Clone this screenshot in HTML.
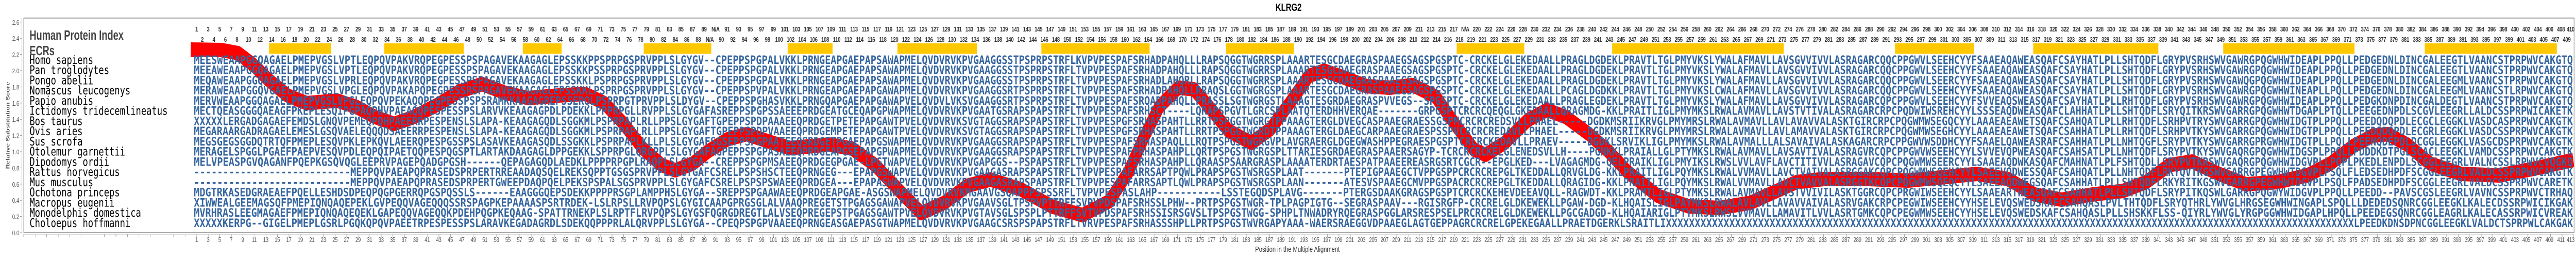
<!DOCTYPE html>
<html><head><meta charset="utf-8">
<style>
html,body{margin:0;padding:0;background:#fff;overflow:hidden;}
#c{position:relative;width:6711px;height:500px;overflow:hidden;background:#fff;font-family:"Liberation Sans",sans-serif;transform-origin:0 0;}
.row{position:absolute;white-space:nowrap;overflow:hidden;font-family:"Liberation Sans Narrow","Liberation Sans",sans-serif;line-height:14px;height:16px;}
.row i{display:inline-block;width:30.06px;text-align:center;font-style:normal;}
.row i.l{width:14px;text-align:left;}
.tp{font-size:13px;font-weight:bold;color:#333;letter-spacing:-0.5px;}
.bt{font-size:13px;color:#555;letter-spacing:-0.5px;}
</style></head><body>
<div id="c">
<svg width="6711" height="500" style="position:absolute;left:0;top:0">
<text x="3357" y="21" text-anchor="middle" font-family="Liberation Sans Narrow,Liberation Sans,sans-serif" font-weight="bold" font-size="20" fill="#000">KLRG2</text>
<rect x="62" y="35" width="6644" height="416" fill="none" stroke="#888" stroke-width="1.5"/>
<line x1="62" y1="454" x2="6706" y2="454" stroke="#bbb" stroke-width="1"/>
<line x1="57" y1="35" x2="57" y2="451" stroke="#999" stroke-width="1"/>
<g stroke="#999" stroke-width="1">
<line x1="52" y1="451" x2="57" y2="451"/><line x1="52" y1="419.6" x2="57" y2="419.6"/><line x1="52" y1="388.2" x2="57" y2="388.2"/><line x1="52" y1="356.8" x2="57" y2="356.8"/><line x1="52" y1="325.4" x2="57" y2="325.4"/><line x1="52" y1="294" x2="57" y2="294"/><line x1="52" y1="262.6" x2="57" y2="262.6"/><line x1="52" y1="231.2" x2="57" y2="231.2"/><line x1="52" y1="199.8" x2="57" y2="199.8"/><line x1="52" y1="168.4" x2="57" y2="168.4"/><line x1="52" y1="137" x2="57" y2="137"/><line x1="52" y1="105.6" x2="57" y2="105.6"/><line x1="52" y1="74.2" x2="57" y2="74.2"/><line x1="52" y1="42.8" x2="57" y2="42.8"/>
</g>
<g font-family="Liberation Sans Narrow,Liberation Sans,sans-serif" font-size="13" fill="#555" text-anchor="end">
<text x="50" y="456">0.0</text><text x="50" y="424.6">0.2</text><text x="50" y="393.2">0.4</text><text x="50" y="361.8">0.6</text><text x="50" y="330.4">0.8</text><text x="50" y="299">1.0</text><text x="50" y="267.6">1.2</text><text x="50" y="236.2">1.4</text><text x="50" y="204.8">1.6</text><text x="50" y="173.4">1.8</text><text x="50" y="142">2.0</text><text x="50" y="110.6">2.2</text><text x="50" y="79.2">2.4</text><text x="50" y="47.8">2.6</text>
</g>
<text transform="translate(25,243) rotate(-90)" text-anchor="middle" font-family="Liberation Sans,sans-serif" font-weight="bold" font-size="13" fill="#555">Relative Substitution Score</text>
<text x="3380" y="488" text-anchor="middle" font-family="Liberation Sans Narrow,Liberation Sans,sans-serif" font-size="15" fill="#333">Position in the Multiple Alignment</text>
<text x="77" y="77" textLength="245" lengthAdjust="spacingAndGlyphs" font-family="Liberation Sans Narrow,Liberation Sans,sans-serif" font-weight="bold" font-size="26" fill="#444">Human Protein Index</text>
<text x="77" y="107" textLength="65" lengthAdjust="spacingAndGlyphs" font-family="Liberation Sans Narrow,Liberation Sans,sans-serif" font-weight="bold" font-size="26" fill="#444">ECRs</text>
<g fill="#ffc800">
<rect x="701" y="84" width="162" height="20"/><rect x="1001" y="84" width="207" height="20"/><rect x="1362" y="84" width="101" height="20"/><rect x="1677" y="84" width="176" height="20"/><rect x="2052" y="84" width="117" height="20"/><rect x="2338" y="84" width="207" height="20"/><rect x="2713" y="84" width="282" height="20"/><rect x="3194" y="84" width="177" height="20"/><rect x="3795" y="84" width="176" height="20"/><rect x="4200" y="84" width="447" height="20"/><rect x="4937" y="84" width="206" height="20"/><rect x="5297" y="84" width="326" height="20"/><rect x="5792" y="84" width="342" height="20"/><rect x="6317" y="84" width="344" height="20"/>
</g>
<polyline fill="none" stroke="#ff0000" stroke-width="28" stroke-linejoin="round" points="497,96 577,97 620,103 659,125 700,155 749,185 799,200 878,195 928,207 978,227 1027,240 1077,227 1147,200 1197,177 1256,163 1316,180 1376,190 1456,185 1525,182 1575,200 1625,240 1674,287 1724,320 1759,330 1805,317 1845,293 1895,270 1945,260 2014,277 2060,287 2160,280 2220,288 2280,320 2340,367 2400,413 2460,393 2520,360 2580,348 2660,367 2740,400 2820,417 2890,390 2940,333 2980,267 3020,207 3070,170 3110,173 3150,207 3200,253 3260,277 3310,250 3360,200 3410,147 3450,137 3500,150 3560,167 3620,170 3680,165 3740,187 3790,240 3840,290 3870,300 3920,277 3980,233 4030,213 4080,227 4140,260 4190,293 4240,333 4320,380 4400,400 4480,403 4560,393 4620,373 4680,353 4750,347 4870,347 4970,350 5070,343 5151,337 5231,347 5301,377 5371,387 5451,377 5531,370 5591,353 5651,320 5711,313 5781,337 5851,357 5931,353 6011,340 6071,317 6131,283 6181,263 6221,260 6271,280 6331,317 6411,337 6511,340 6601,327 6704,310"/>
<g font-family="DejaVu Sans Mono,monospace" font-size="23" fill="#000">
<text x="77" y="124">Homo sapiens</text>
<text x="77" y="143.75">Pan troglodytes</text>
<text x="77" y="163.5">Pongo abelii</text>
<text x="77" y="183.25">Nomascus leucogenys</text>
<text x="77" y="203">Papio anubis</text>
<text x="77" y="222.75">Ictidomys tridecemlineatus</text>
<text x="77" y="242.5">Bos taurus</text>
<text x="77" y="262.25">Ovis aries</text>
<text x="77" y="282">Sus scrofa</text>
<text x="77" y="301.75">Otolemur garnettii</text>
<text x="77" y="321.5">Dipodomys ordii</text>
<text x="77" y="341.25">Rattus norvegicus</text>
<text x="77" y="361">Mus musculus</text>
<text x="77" y="380.75">Ochotona princeps</text>
<text x="77" y="400.5">Macropus eugenii</text>
<text x="77" y="420.25">Monodelphis domestica</text>
<text x="77" y="440">Choloepus hoffmanni</text>
</g>
<g font-family="DejaVu Sans Mono,monospace" font-weight="bold" font-size="22" fill="#35659f">
<text x="505" y="124" textLength="1555" lengthAdjust="spacingAndGlyphs">MEESWEAAPGGQAGAELPMEPVGSLVPTLEQPQVPAKVRQPEGPESSPSPAGAVEKAAGAGLEPSSKKPPSPRPGSPRVPPLSLGYGV--CPEPPSPGPALVK</text>
<text x="505" y="143.75" textLength="1555" lengthAdjust="spacingAndGlyphs">MEEAWEAAPGGQAGAELPMEPVGSLVPTLEQPQVPAKVRQPEGPESSPSPAGAVEKAAGAGLEPSSKKPSSPRPGSPRVPPLSLGYGV--CPEPPSPGPALVK</text>
<text x="505" y="163.5" textLength="1555" lengthAdjust="spacingAndGlyphs">MEQAWEAAPGGQAGAELPMEPVGSLVPRLEQPQVPAKVRQPEGPESSPSPAGAVEKAAGAGLEPSSKKLPSPRPGSPRVPPLSLGYGV--CPEPPSPGPALVK</text>
<text x="505" y="183.25" textLength="1555" lengthAdjust="spacingAndGlyphs">MERAWEAAPGGQVGAELPMEPVGSLVPGLEQPQVPAKAPQPEGPESSRSPAGAVEKAAGAGLEPSSKKLPSPRPGSPRVPPLSLGYGV--CPEPPSPVPALVK</text>
<text x="505" y="203" textLength="1555" lengthAdjust="spacingAndGlyphs">MERVWEAAPGGQAGAELPMEPVGSLVPGLEQPQVPEKAQQPEGPESSPSPSRAMKKAAGAGREPSSERQLPSPRPGTPRVPPLSLDYGV--CPEPPSPGHASVK</text>
<text x="505" y="222.75" textLength="1555" lengthAdjust="spacingAndGlyphs">MECTQEASGGGQAEAGFPKEPLESQIPGPAQPHVPAEAQQPESPESSPSLARVVKEAAGAGPDLPDEKKLPPPRPGLLRVPPLSLGYGAFASREPPSPGPSSAE</text>
<text x="505" y="242.5" textLength="1555" lengthAdjust="spacingAndGlyphs">XXXXXLERGADGAGAEFEMDSLGNQVPEMEQPQHPAEERRPESPENSLSLAPA-KEAAGAGQDLSGGKMLPSPRPAPLRLLPPSLGYGAFTGPEPPSPDPAAAE</text>
<text x="505" y="262.25" textLength="1555" lengthAdjust="spacingAndGlyphs">MEGARAARGADRAGAELEMESLGSQVAELEQQQDSAEERRPESPENSLSLAPA-KEAAGAGQDLSGGKMLPSPRPAPLRLLPPSLGYGAFTGPEPPSPDPVAAE</text>
<text x="505" y="282" textLength="1555" lengthAdjust="spacingAndGlyphs">MEGSGEGSGGDQTRTQFPMEPLESQVPKLEPKQVLAEERQPESPGSSPSLASAVKEAAGASQDLSSGKKLPSPRPAPLKLLPLSLGYGAFSGSEPPSPGPAATE</text>
<text x="505" y="301.75" textLength="1555" lengthAdjust="spacingAndGlyphs">MERAGELSPGGLPGAEFPAEPVESQVPDLEQPQIPAETQQPESPQGSPTLARTAKDAAGAGLDPPGEKKLSPPRPGLQRGPPLSLGYGAFAGPEPPSPGPASAE</text>
<text x="505" y="321.5" textLength="1555" lengthAdjust="spacingAndGlyphs">MELVPEASPGVQAGANFPQEPKGSQVQGLEEPRVPAGEPQADGPGSH------QEPAGAGQDLAEDKLPPPPRPGPLRAQPLSLGYGA--CREPPSPGPMSAE</text>
<text x="505" y="341.25" textLength="1555" lengthAdjust="spacingAndGlyphs">---------------------------MEPPQVPAEAPQPRASEDSPRPERTRREAADAQSQELREKSQPPTGSGSPRVPPLSLGYGAFCSRELPSPSHSCTE</text>
<text x="505" y="361" textLength="1555" lengthAdjust="spacingAndGlyphs">---------------------------MEPPQVPAEAPQPRASEDSPRPERTGWEEPDAQPQELPEKSPSPALSGSPRVPPLSLGYGAFCSRELPSPSPSWAE</text>
<text x="505" y="380.75" textLength="1555" lengthAdjust="spacingAndGlyphs">MDGTRKASEDGRAEAEFPQELLESHDSDPEQPQGPGERRQPGSPQSSLS------EAAGGGQEPSDEKKPPPPRSGPLAMPPHSLGYGA--SREPPSPGAAWAE</text>
<text x="505" y="400.5" textLength="1555" lengthAdjust="spacingAndGlyphs">XIWWEALGEEMAGSQFPMEPIQNQAQEPEKLGVPEQQVAGEQQQSSRSPAGPKEPAAAASPSRTRDEK-LSLRPSLLRVPQPSLGYGICAAPGPRGSGLALVA</text>
<text x="505" y="420.25" textLength="1555" lengthAdjust="spacingAndGlyphs">MVRHRASLEEGMAGAEFPMEPIQNQAQEQEKLGAPEQQVAGEQQKPDEHPQGPKEQAAG-SPATTRNEKPLSLRPTFLRVPQPSLGYGSFQGRGDREGTLALVS</text>
<text x="505" y="440" textLength="1555" lengthAdjust="spacingAndGlyphs">XXXXXKERPG--GIGELPMEPLGSRLPGQKQPQVPAEETRPESPESSPSLARAVKEGADAGRDLSDEKQQPPPRLALQRVPPLSLGYGA--CPEQPSPGPVAAE</text>

<text x="2060" y="124" textLength="1560" lengthAdjust="spacingAndGlyphs">KLPRNGEAPGAEPAPSAWAPMELQVDVRVKPVGAAGGSSTPSPRPSTRFLKVPVPESPAFSRHADPAHQLLLRAPSQGGTWGRRSPLAAARTESGCDAEGRASPA</text>
<text x="2060" y="143.75" textLength="1560" lengthAdjust="spacingAndGlyphs">KLPRNGEAPGAEPAPSAWAPMELQVDVRVKPVGAAGGSSTPSPRPSTRFLTVPVPESPAFSRHADPAHQLLLRAPSQGGTWGRRSPLAAARTESGCDAEGRASPA</text>
<text x="2060" y="163.5" textLength="1560" lengthAdjust="spacingAndGlyphs">KLPRNGEAPGAEPAPSAWAPMELQVDVRVKPVGAAGGSSTPSPRPSTRFLTVPVPESPAFSRHADLAHQRLLRAPSQGGTWGRRSPLAAARTESGCDAEGRASPA</text>
<text x="2060" y="183.25" textLength="1560" lengthAdjust="spacingAndGlyphs">KLPRNGEAPGAEPAPGAWAPMELQVDVRVKPVGAAGGSRTPSPRPSTRFLTVPVPESPAFSRHADPAHQLLRRAQSLGGTWGRGSPLAAARTESGCDAEGRASPA</text>
<text x="2060" y="203" textLength="1560" lengthAdjust="spacingAndGlyphs">KLPRNGQAPGAEPAPGAWAPVELQVDVLVKSVGAAGGSRTPSPRPSTRFLTVPVPESPAFSRQADPAHQLLPRASSLSGTWGRGSTLAAAGTESGRDAEGRASPV</text>
<text x="2060" y="222.75" textLength="1560" lengthAdjust="spacingAndGlyphs">EEPRDGEATGCEQAPGPWAPMELQVDVRVKPVGAATGSRAPSPAPSTRFLTVPVPESPAFSRHSCT----LQRAPSPGVTLGRCSPLAATQTERDHHVERQAE--</text>
<text x="2060" y="242.5" textLength="1560" lengthAdjust="spacingAndGlyphs">EQPRDGETPETEPAPGAWTPVELQVDVRVKSVGTAGGSRAPSPAPSTRFLTVPVPESPGFSRHASPAHTLLRRTPSPGGTWGRGTPPAAAGTERGLDVEGCASPA</text>
<text x="2060" y="262.25" textLength="1560" lengthAdjust="spacingAndGlyphs">EQPRDGEMPETEPAPGAWTPVELQVDVRVKSVGTAGGSRAPSPAPSTRFLTVPVPESPGFSRHASPAHTLLRRTPSPGGTWGRDTPPAAAGTERGLDAEGCARPA</text>
<text x="2060" y="282" textLength="1560" lengthAdjust="spacingAndGlyphs">EQSRDGETPGAEPAPGSWAPMELQVDVRVKPVGAAGGSRAPSPAPSTRFLTVPVPESPAFSRHASPAQLLLRQTPSPGSTWGRGVPLAVGRAERGLDGEGWASHP</text>
<text x="2060" y="301.75" textLength="1560" lengthAdjust="spacingAndGlyphs">EQPRDGEAPGSEPAPGPWAPMELQVDVRVKPVGAAGGSRAPSPAPSTRFLTVPVPESPAFPRHASPAHPLLQRTPSPGSTWGRGSPLTTARIESGRDAEGRASPA</text>
<text x="2060" y="321.5" textLength="1560" lengthAdjust="spacingAndGlyphs">EQPRDGEGPGAE-LPGTWAPVELQVDVRVKPVGAPGGS--PSPAPSTRFLTVPVPESPAFSRHASPAHPLLQRAASPSAARGRASPLAAAATERDRTAESPATPA</text>
<text x="2060" y="341.25" textLength="1560" lengthAdjust="spacingAndGlyphs">EQPRNGEG---EPAPGSWAPVELQVDVRVKPVGAAGASRAPSPAPSTRFLTVPVPESPAFARRSAPTPQWLPRAPSPGSTWSRGSPLAAT-------PTEPIGPA</text>
<text x="2060" y="361" textLength="1560" lengthAdjust="spacingAndGlyphs">EQPRDGEA---EPAPASWAPVELQVDVRVKPVGAAGASRAPSPAPSTRFLTVPVPESPAFARRSAPTLQWLPRAPSPGSTWSRGSPLAAN-------ATESVSPA</text>
<text x="2060" y="380.75" textLength="1560" lengthAdjust="spacingAndGlyphs">EQPRDGEAPGAE-ASGSWAPMELQVDVRVKMGAAVGSQAPPPSPSSRFLTVPVPESPASLAHP-----------LSSTEGQDSPLAVG-------PTERGSDA</text>
<text x="2060" y="400.5" textLength="1560" lengthAdjust="spacingAndGlyphs">AQPREGETSTPGAGSGAWAPVELQVDVRVKPVGAAVSGLTPSPVPTTRFFSVPVPDSPAFSRHSSLPHW--PRTPSPGSTWGR-TPLPAGPIGTG--SEGRASPA</text>
<text x="2060" y="420.25" textLength="1560" lengthAdjust="spacingAndGlyphs">EQPREGEPSTPGAGSGAWTPVELQVDVRVKPVGTAVSGLSPSPLPTTRFFSVTVPDSPAFSRHSSISRSGVSLTPSPGSTWGG-SPHPLTNWADRYRQEGRASPG</text>
<text x="2060" y="440" textLength="1560" lengthAdjust="spacingAndGlyphs">EQPRNGEASGAEPASGTWAPMELQVDVRVKPVGAAGCSRSPSPAPSTRFLTVRVPESPAFSRHASSSHPLLPRTPSPGSTWVRGAPYAAA-WAERSRAEGGVDPA</text>

<text x="3620" y="124" textLength="1560" lengthAdjust="spacingAndGlyphs">AEGSAGSPGSPTC-CRCKELGLEKEDAALLPRAGLDGDEKLPRAVTLTGLPMYVKSLYWALAFMAVLLAVSGVVIVVLASRAGARCQQCPPGWVLSEEHCYYFSA</text>
<text x="3620" y="143.75" textLength="1560" lengthAdjust="spacingAndGlyphs">AEGSAGSPGSPTC-CRCKELGLEKEDAALLPRAGLDGDEKLPRAVTLTGLPMYVKSLYWALAFMAVLLAVSGVVIVVLASRAGARCQQCPPGWVLSEEHCYYFSA</text>
<text x="3620" y="163.5" textLength="1560" lengthAdjust="spacingAndGlyphs">AEGSAGSPGSPTC-CRCKELGLEKEDAALLPRAGLDGDEKLPRAVTLTGLPMYVKSLYWALAFMAVLLAVSGVVIVVLASRAGARCQQCPPGWVLSEERCYYFSA</text>
<text x="3620" y="183.25" textLength="1560" lengthAdjust="spacingAndGlyphs">AEGSAGSPGSPTC-CRCKELGLEKEDAALLPCAGLDGDKKLPRAVTLTGLPMYVKSLCWALAFMAVLLAVSGVVIVVLASRAGARCQQCPPGWVLSEEHCYYFSA</text>
<text x="3620" y="203" textLength="1560" lengthAdjust="spacingAndGlyphs">VEGS--SPGSPTC-CRCKELGLEKEDAALLPRAGLEGDEKLPRAVTLTGLPMYVKSLYWALAFMAVLLAVSGVVIVVLASRAGARCQPCPPGWVLSEEHCYYFSV</text>
<text x="3620" y="222.75" textLength="1560" lengthAdjust="spacingAndGlyphs">-----GRPGSPTCRCRCQEQGLGKEDAALLQRAGMDG-KKLPRAITLIGLPMYMKSLRWALAVMAVLLAVSTVTIVALASRAGARCRPCPQDWIWSREHCYYLSS</text>
<text x="3620" y="242.5" textLength="1560" lengthAdjust="spacingAndGlyphs">AEGRAESSGSPMCRCRCREDSVLLPHAEL-----DGDKMSRIIKRVGLPMYMRSLRWALAVMAVLLAVLAVAVVALASKTGIRCRPCPQGWMWSEGQCYYLAA</text>
<text x="3620" y="262.25" textLength="1560" lengthAdjust="spacingAndGlyphs">AEGRAESPSSPVCRCRCREDAVLLPHAEL-----DGDKMSRIIKRVGLPMYMRSLRWALAVMAVLLAVLAMAVVALASKTGIRCRPCPQGWMWSEGHCYYLAA</text>
<text x="3620" y="282" textLength="1560" lengthAdjust="spacingAndGlyphs">PEGRAESPGSPTCRCRCKEDAVLLPRAEV-----DGDKLSRVIKLIGLPMYMKSLRWALAVMALLLALSAVAIVALASKAGARCRPCPPGWVWSDDHCYYFSA</text>
<text x="3620" y="301.75" textLength="1560" lengthAdjust="spacingAndGlyphs">AERSAGYP-TCRCRCRCKELGLENEDSVLLH----PGNKKLPRAIALLGLPTYMKSLRWALAVMAVLLAVSAVTIVALASRAGVRCQPCPPGWVWSEEHCYYLSV</text>
<text x="3620" y="321.5" textLength="1560" lengthAdjust="spacingAndGlyphs">AEEREASRGSRTCGCR--EPGLKED---LVAGAGMDG-QELPRAIKLIGLPMYIKSLRWSLVVLAVFLAVCTITIVVLASRAGAVCQPCPQGWMWSEERCYYLSA</text>
<text x="3620" y="341.25" textLength="1560" lengthAdjust="spacingAndGlyphs">AEGCTVPPGSPPCRCRCREPGLTKEDDALLQRVGLDG-KKLPRAITLIGLPQYMKSLRWALVVMAVLLAVCTVAIVALASRGGAKCQPCPQGWMWSQEHCYYLSA</text>
<text x="3620" y="361" textLength="1560" lengthAdjust="spacingAndGlyphs">AEGCMVPPGSPACRCRCREPGLTKEDDALLQRAGIDG-KKLPRAITLIGLPQYMKSLRWALVVMAVLLAVCTVAVVALASRGGTKCQPCPQGWMWSQEQCYYLSA</text>
<text x="3620" y="380.75" textLength="1560" lengthAdjust="spacingAndGlyphs">AKGRAGSPGSPTCRCRCKEHEVDEEAVQLL-RAGWDT-KKLPRAMTLIGLPTYMKSLRWALAVMAVLLAVSTVVIVILASKTGGRCQPCPRGWIWSEEHCYYLSA</text>
<text x="3620" y="400.5" textLength="1560" lengthAdjust="spacingAndGlyphs">AV---RGISRGFP-CRCRELGLDKEWEKLLPGAW-DGD-KLHQAISLIGLPAYMKSLRWALAVLAVLLAVAVVAIVALASRVGAKCRPCPEGWIWSEEHCYYHSE</text>
<text x="3620" y="420.25" textLength="1560" lengthAdjust="spacingAndGlyphs">GLARSRESPSELPRCRCRELGLDKEWEKLLPGCGADGD-KLHQAIARIGLPTYMKSLRWSLVVMAVLLAMAVITLVVLASRTGMKCQPCPEGWMWSEEHCYYHSE</text>
<text x="3620" y="440" textLength="1560" lengthAdjust="spacingAndGlyphs">AEGLAGTGEPPAGRCRCRELGPEKEGAALLPRAETDGERKLSRAITLIXXXXXXXXXXXXXXXXXXXXXXXXXXXXXXXXXXXXXXXXXXXXXXXXXXXXXXXX</text>

<text x="5181" y="124" textLength="1522" lengthAdjust="spacingAndGlyphs">AEAQAWEASQAFCSAYHATLPLLSHTQDFLGRYPVSRHSWVGAWRGPQGWHWIDEAPLPPQLLPEDGEDNLDINCGALEEGTLVAANCSTPRPWVCAKGTQ</text>
<text x="5181" y="143.75" textLength="1522" lengthAdjust="spacingAndGlyphs">AEAQAWEASQAFCSAYHATLPLLSHTQDFLGRYPVSRHSWVGAWRGPQGWHWIDEAPLPPQLLPEDGEDNLDINCGALEEGTLVAANCSTPRPWVCAKGTQ</text>
<text x="5181" y="163.5" textLength="1522" lengthAdjust="spacingAndGlyphs">AEAQAWEASQAFCSAYHATLPLLSHTQDFLGRYPVSRHSWVGAWQGPQGWHWIDEAPLPPQLLPEDGEDNLDINCGALEEGMLVAANCSTPRPWVCAKGTQ</text>
<text x="5181" y="183.25" textLength="1522" lengthAdjust="spacingAndGlyphs">AEAQAWEASQAFCSAYHATLPLLSHTQDFLGRYPVSRHSWVGAWRGPQGWHWINEAPLLPQLLPEDGEDNLDINCGALEEGMLVAANCSTLRPWVCAKGTQ</text>
<text x="5181" y="203" textLength="1522" lengthAdjust="spacingAndGlyphs">VEAQSWEASQAFCSAYHATLPLLRHTQDFLGRYPVSRHSWVGAWRGPQGWHWIDEAPLPPQLLPEDGKDNPDINCGALDEGTLVAANCSTPRPWVCAKGTQ</text>
<text x="5181" y="222.75" textLength="1522" lengthAdjust="spacingAndGlyphs">SEAQDWEASQAFCLAHHATLPLLSHTQDFLSRYQITKRSWVGARRGPQGWHWTDGAPLPTQLLPEEGEDNPDLSCGVLEEGRLLALDCSSPRPWICAKETK</text>
<text x="5181" y="242.5" textLength="1522" lengthAdjust="spacingAndGlyphs">AEAEAWETSQAFCSAHQATLPLLRHTQDFLSRHPVTRYSWVGARRGPQGWHWIDGTPLPPQLLPEEDQDQPDLECGCLEGGKLVASDCASPRPWVCAKGTK</text>
<text x="5181" y="262.25" textLength="1522" lengthAdjust="spacingAndGlyphs">AEAEAWETSQAFCSAHHATLPLLRHTQDFLSRHPVTKYSWVGARRGPQGWHWIDGTPLPPQLLPEEDQDQPDLECGRLEGGKLVASDCSSPRPWVCAKGTK</text>
<text x="5181" y="282" textLength="1522" lengthAdjust="spacingAndGlyphs">AELQAWEASRAFCSAHHATLPLLNHTQGFLSRYPVTKYSWVGARRGPRGWHWIDGTPLLPQLLPEENQDEPDLDCGGLEGGKLVASGCDSPRPWVCAKGTK</text>
<text x="5181" y="301.75" textLength="1522" lengthAdjust="spacingAndGlyphs">VEVQPWEASQAFCSAHSATLPLLNHTQDFLSRYPVTKYSWVGAQRGPQGWHWIDGSPLPPQLLPDDDKDTPGLSCACLEEGKLVAMDCSSPRPWVCAKGTK</text>
<text x="5181" y="321.5" textLength="1522" lengthAdjust="spacingAndGlyphs">AEAQDWKASQAFCMAHNATLPLFSHTQDLLSRYPVTKRSWVGAQRGPQGWHWIDGVPLLPQPLPKEDLENPDLSCGGLEEGRLVALNCSSLRPWVCVQGKQ</text>
<text x="5181" y="341.25" textLength="1522" lengthAdjust="spacingAndGlyphs">EEVQDWESSQAFCSAHQATLPLLNHTQDFLRKYQVTKGSWVGARRGPEGWHWTDGVPLPSQLFLEDSEDHPDFSCGGLEEGRLVALDCSSPRPWVCAKGTK</text>
<text x="5181" y="361" textLength="1522" lengthAdjust="spacingAndGlyphs">EEAQDWEGSQAFCSAHHATLPLLSHTQDFLRKYRITKGSWVGARRGPEGWHWIDGVPLPSQLFPADSEDHPDFSCGGLEEGRLVALDCSSPRPWVCARETK</text>
<text x="5181" y="380.75" textLength="1522" lengthAdjust="spacingAndGlyphs">AEARTWEASQAFCSAHHATLPLLSHTQDFLSRYPITKQSWLGARRGPQGWYWIDGVPLPPQLLPEEDD--PAVSCGSLEEGRLVAVNCSSPRPWVCTRHAQ</text>
<text x="5181" y="400.5" textLength="1522" lengthAdjust="spacingAndGlyphs">LEVQSWEDSKAFCSAHQASLPVLTHTQDFLSRYQTHRLYWVGLHRGSEGWHWINGAPLSPQLLLDEDEDSQNRCGGLEEGKLKALECDSSRPWICIKGAK</text>
<text x="5181" y="420.25" textLength="1522" lengthAdjust="spacingAndGlyphs">LEVQSWEDSKAFCSAHQASLPLLSHSKKFLSS-QIYRLYWVGLYRGPGGWHWIDGAPLHPQLLPEEDEGSQNRCGGLEAGRLKALECASSRPWICVREAK</text>
<text x="5181" y="440" textLength="1522" lengthAdjust="spacingAndGlyphs">XXXXXXXXXXXXXXXXXXXXXXXXXXXXXXXXXXXXXXXXXXXXXXXXXXXXXXXXXXXXXXXXXLPEEDKDNSDPNCGGLEEGKLVALDCTSPRPWLCAKGAK</text>
</g>
</svg>
<div style="position:absolute;left:61px;top:454px;width:6645px;height:5px;background:repeating-linear-gradient(to right,#aaa 0,#aaa 1px,transparent 1px,transparent 30.06px);"></div>

<div class="row tp" style="left:496.97px;top:50px;width:6212px;"><i>1</i><i>3</i><i>5</i><i>7</i><i>9</i><i>11</i><i>13</i><i>15</i><i>17</i><i>19</i><i>21</i><i>23</i><i>25</i><i>27</i><i>29</i><i>31</i><i>33</i><i>35</i><i>37</i><i>39</i><i>41</i><i>43</i><i>45</i><i>47</i><i>49</i><i>51</i><i>53</i><i>55</i><i>57</i><i>59</i><i>61</i><i>63</i><i>65</i><i>67</i><i>69</i><i>71</i><i>73</i><i>75</i><i>77</i><i>79</i><i>81</i><i>83</i><i>85</i><i>87</i><i>89</i><i>N/A</i><i>91</i><i>93</i><i>95</i><i>97</i><i>99</i><i>101</i><i>103</i><i>105</i><i>107</i><i>109</i><i>111</i><i>113</i><i>115</i><i>117</i><i>119</i><i>121</i><i>123</i><i>125</i><i>127</i><i>129</i><i>131</i><i>133</i><i>135</i><i>137</i><i>139</i><i>141</i><i>143</i><i>145</i><i>147</i><i>149</i><i>151</i><i>153</i><i>155</i><i>157</i><i>159</i><i>161</i><i>163</i><i>165</i><i>167</i><i>169</i><i>171</i><i>173</i><i>175</i><i>177</i><i>179</i><i>181</i><i>183</i><i>185</i><i>187</i><i>189</i><i>191</i><i>193</i><i>195</i><i>197</i><i>199</i><i>201</i><i>203</i><i>205</i><i>207</i><i>209</i><i>211</i><i>213</i><i>215</i><i>217</i><i>N/A</i><i>220</i><i>222</i><i>224</i><i>226</i><i>228</i><i>230</i><i>232</i><i>234</i><i>236</i><i>238</i><i>240</i><i>242</i><i>244</i><i>246</i><i>248</i><i>250</i><i>252</i><i>254</i><i>256</i><i>258</i><i>260</i><i>262</i><i>264</i><i>266</i><i>268</i><i>270</i><i>272</i><i>274</i><i>276</i><i>278</i><i>280</i><i>282</i><i>284</i><i>286</i><i>288</i><i>290</i><i>292</i><i>294</i><i>296</i><i>298</i><i>300</i><i>302</i><i>304</i><i>306</i><i>308</i><i>310</i><i>312</i><i>314</i><i>316</i><i>318</i><i>320</i><i>322</i><i>324</i><i>326</i><i>328</i><i>330</i><i>332</i><i>334</i><i>336</i><i>338</i><i>340</i><i>342</i><i>344</i><i>346</i><i>348</i><i>350</i><i>352</i><i>354</i><i>356</i><i>358</i><i>360</i><i>362</i><i>364</i><i>366</i><i>368</i><i>370</i><i>372</i><i>374</i><i>376</i><i>378</i><i>380</i><i>382</i><i>384</i><i>386</i><i>388</i><i>390</i><i>392</i><i>394</i><i>396</i><i>398</i><i>400</i><i>402</i><i>404</i><i>406</i><i>408</i><i class="l">410</i></div>

<div class="row tp" style="left:512px;top:70px;width:6194px;"><i>2</i><i>4</i><i>6</i><i>8</i><i>10</i><i>12</i><i>14</i><i>16</i><i>18</i><i>20</i><i>22</i><i>24</i><i>26</i><i>28</i><i>30</i><i>32</i><i>34</i><i>36</i><i>38</i><i>40</i><i>42</i><i>44</i><i>46</i><i>48</i><i>50</i><i>52</i><i>54</i><i>56</i><i>58</i><i>60</i><i>62</i><i>64</i><i>66</i><i>68</i><i>70</i><i>72</i><i>74</i><i>76</i><i>78</i><i>80</i><i>82</i><i>84</i><i>86</i><i>88</i><i>N/A</i><i>90</i><i>92</i><i>94</i><i>96</i><i>98</i><i>100</i><i>102</i><i>104</i><i>106</i><i>108</i><i>110</i><i>112</i><i>114</i><i>116</i><i>118</i><i>120</i><i>122</i><i>124</i><i>126</i><i>128</i><i>130</i><i>132</i><i>134</i><i>136</i><i>138</i><i>140</i><i>142</i><i>144</i><i>146</i><i>148</i><i>150</i><i>152</i><i>154</i><i>156</i><i>158</i><i>160</i><i>162</i><i>164</i><i>166</i><i>168</i><i>170</i><i>172</i><i>174</i><i>176</i><i>178</i><i>180</i><i>182</i><i>184</i><i>186</i><i>188</i><i>190</i><i>192</i><i>194</i><i>196</i><i>198</i><i>200</i><i>202</i><i>204</i><i>206</i><i>208</i><i>210</i><i>212</i><i>214</i><i>216</i><i>218</i><i>219</i><i>221</i><i>223</i><i>225</i><i>227</i><i>229</i><i>231</i><i>233</i><i>235</i><i>237</i><i>239</i><i>241</i><i>243</i><i>245</i><i>247</i><i>249</i><i>251</i><i>253</i><i>255</i><i>257</i><i>259</i><i>261</i><i>263</i><i>265</i><i>267</i><i>269</i><i>271</i><i>273</i><i>275</i><i>277</i><i>279</i><i>281</i><i>283</i><i>285</i><i>287</i><i>289</i><i>291</i><i>293</i><i>295</i><i>297</i><i>299</i><i>301</i><i>303</i><i>305</i><i>307</i><i>309</i><i>311</i><i>313</i><i>315</i><i>317</i><i>319</i><i>321</i><i>323</i><i>325</i><i>327</i><i>329</i><i>331</i><i>333</i><i>335</i><i>337</i><i>339</i><i>341</i><i>343</i><i>345</i><i>347</i><i>349</i><i>351</i><i>353</i><i>355</i><i>357</i><i>359</i><i>361</i><i>363</i><i>365</i><i>367</i><i>369</i><i>371</i><i>373</i><i>375</i><i>377</i><i>379</i><i>381</i><i>383</i><i>385</i><i>387</i><i>389</i><i>391</i><i>393</i><i>395</i><i>397</i><i>399</i><i>401</i><i>403</i><i>405</i><i>407</i><i>409</i></div>

<div class="row bt" style="left:496.97px;top:458px;width:6212px;"><i>1</i><i>3</i><i>5</i><i>7</i><i>9</i><i>11</i><i>13</i><i>15</i><i>17</i><i>19</i><i>21</i><i>23</i><i>25</i><i>27</i><i>29</i><i>31</i><i>33</i><i>35</i><i>37</i><i>39</i><i>41</i><i>43</i><i>45</i><i>47</i><i>49</i><i>51</i><i>53</i><i>55</i><i>57</i><i>59</i><i>61</i><i>63</i><i>65</i><i>67</i><i>69</i><i>71</i><i>73</i><i>75</i><i>77</i><i>79</i><i>81</i><i>83</i><i>85</i><i>87</i><i>89</i><i>91</i><i>93</i><i>95</i><i>97</i><i>99</i><i>101</i><i>103</i><i>105</i><i>107</i><i>109</i><i>111</i><i>113</i><i>115</i><i>117</i><i>119</i><i>121</i><i>123</i><i>125</i><i>127</i><i>129</i><i>131</i><i>133</i><i>135</i><i>137</i><i>139</i><i>141</i><i>143</i><i>145</i><i>147</i><i>149</i><i>151</i><i>153</i><i>155</i><i>157</i><i>159</i><i>161</i><i>163</i><i>165</i><i>167</i><i>169</i><i>171</i><i>173</i><i>175</i><i>177</i><i>179</i><i>181</i><i>183</i><i>185</i><i>187</i><i>189</i><i>191</i><i>193</i><i>195</i><i>197</i><i>199</i><i>201</i><i>203</i><i>205</i><i>207</i><i>209</i><i>211</i><i>213</i><i>215</i><i>217</i><i>219</i><i>221</i><i>223</i><i>225</i><i>227</i><i>229</i><i>231</i><i>233</i><i>235</i><i>237</i><i>239</i><i>241</i><i>243</i><i>245</i><i>247</i><i>249</i><i>251</i><i>253</i><i>255</i><i>257</i><i>259</i><i>261</i><i>263</i><i>265</i><i>267</i><i>269</i><i>271</i><i>273</i><i>275</i><i>277</i><i>279</i><i>281</i><i>283</i><i>285</i><i>287</i><i>289</i><i>291</i><i>293</i><i>295</i><i>297</i><i>299</i><i>301</i><i>303</i><i>305</i><i>307</i><i>309</i><i>311</i><i>313</i><i>315</i><i>317</i><i>319</i><i>321</i><i>323</i><i>325</i><i>327</i><i>329</i><i>331</i><i>333</i><i>335</i><i>337</i><i>339</i><i>341</i><i>343</i><i>345</i><i>347</i><i>349</i><i>351</i><i>353</i><i>355</i><i>357</i><i>359</i><i>361</i><i>363</i><i>365</i><i>367</i><i>369</i><i>371</i><i>373</i><i>375</i><i>377</i><i>379</i><i>381</i><i>383</i><i>385</i><i>387</i><i>389</i><i>391</i><i>393</i><i>395</i><i>397</i><i>399</i><i>401</i><i>403</i><i>405</i><i>407</i><i>409</i><i>411</i><i class="l">413</i></div>
</div>
<script>
(function(){var c=document.getElementById('c');var w=window.innerWidth,h=window.innerHeight;if(w>0&&h>0&&(Math.abs(w-6711)>1||Math.abs(h-500)>1)){c.style.transform='scale('+(w/6711)+','+(h/500)+')';}})();
</script>
</body></html>
